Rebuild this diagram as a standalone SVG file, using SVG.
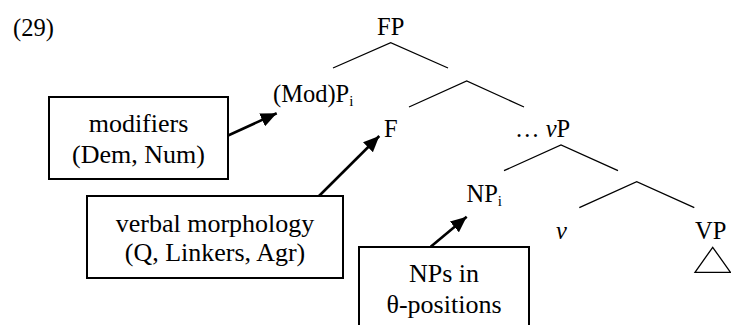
<svg xmlns="http://www.w3.org/2000/svg" width="731" height="325" viewBox="0 0 731 325">
  <style>
    text { font-family: "Liberation Serif", "Times New Roman", serif; fill: #000; }
    .lbl { font-size: 24.5px; }
    .sub { font-size: 15px; }
    .box-text { font-size: 26px; text-anchor: middle; }
    .box { fill: #fff; stroke: #000; stroke-width: 2; }
    .branch { fill: none; stroke: #000; stroke-width: 1.3; }
    .pointer { fill: none; stroke: #000; stroke-width: 2.6; marker-end: url(#head); }
  </style>
  <defs>
    <marker id="head" markerUnits="userSpaceOnUse" markerWidth="18" markerHeight="14" refX="16" refY="7" orient="auto">
      <path d="M0,0 L16,7 L0,14 Z" fill="#000"/>
    </marker>
  </defs>

  <rect width="731" height="325" fill="#fff"/>

  <text id="example-number" class="lbl" x="13" y="36">(29)</text>

  <!-- tree branches and annotation arrows -->
  <g id="connectors">
    <polyline class="branch" points="333,68 390.7,42.7 448,68"/>
    <polyline class="branch" points="409,107 466.7,81 524,107"/>
    <polyline class="branch" points="504,170.7 561,145 618,170.7"/>
    <polyline class="branch" points="579.3,207.7 636.7,181.7 694.3,207.7"/>
    <line class="pointer" x1="227" y1="136" x2="276.7" y2="113.3"/>
    <line class="pointer" x1="315" y1="200" x2="379.3" y2="136"/>
    <line class="pointer" x1="430.7" y1="246.7" x2="466.7" y2="216.7"/>
  </g>

  <g id="node-FP"><text class="lbl" x="377" y="35">FP</text></g>
  <g id="node-ModP"><text class="lbl" x="273" y="102">(Mod)P<tspan class="sub" dy="4">i</tspan></text></g>
  <g id="node-F"><text class="lbl" x="384" y="137">F</text></g>
  <g id="node-vP"><text class="lbl" x="515" y="137">… <tspan font-style="italic">v</tspan>P</text></g>
  <g id="node-NP"><text class="lbl" x="466.5" y="202">NP<tspan class="sub" dy="4">i</tspan></text></g>
  <g id="node-v"><text class="lbl" x="556" y="239" font-style="italic">v</text></g>
  <g id="node-VP">
    <text class="lbl" x="695" y="239">VP</text>
    <polygon points="712.7,247.3 695,272.3 730.5,272.3" fill="none" stroke="#000" stroke-width="1.3"/>
  </g>

  <g id="box-modifiers">
    <rect class="box" x="49" y="97" width="179" height="82"/>
    <text class="box-text" x="138.5" y="132">modifiers</text>
    <text class="box-text" x="138.5" y="163">(Dem, Num)</text>
  </g>
  <g id="box-verbal">
    <rect class="box" x="87" y="196" width="256" height="82"/>
    <text class="box-text" x="215" y="231.5">verbal morphology</text>
    <text class="box-text" x="215" y="261">(Q, Linkers, Agr)</text>
  </g>
  <g id="box-nps">
    <rect class="box" x="359" y="247" width="170" height="90"/>
    <text class="box-text" x="444" y="282">NPs in</text>
    <text class="box-text" x="444" y="313">θ-positions</text>
  </g>
</svg>
